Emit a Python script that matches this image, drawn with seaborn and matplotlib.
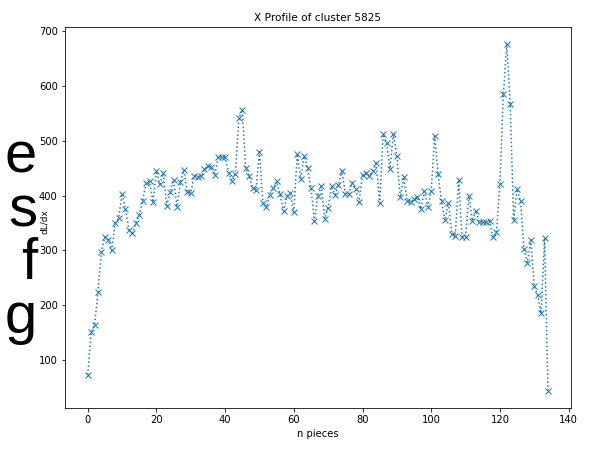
import matplotlib
matplotlib.use("Agg")
import matplotlib.pyplot as plt
import seaborn as sns
import pandas as pd

# ---- data ----
n_pieces = list(range(135))
dl_dx = [
    73, 151, 163, 225, 298, 325, 320, 300, 350, 359,
    404, 376, 338, 332, 350, 364, 391, 424, 426, 388,
    445, 421, 441, 382, 406, 429, 380, 425, 447, 406,
    405, 436, 435, 436, 448, 455, 452, 438, 471, 471,
    470, 442, 427, 440, 542, 557, 451, 436, 415, 411,
    480, 387, 379, 402, 414, 426, 403, 372, 399, 405,
    370, 476, 431, 472, 451, 414, 353, 400, 417, 358,
    378, 417, 402, 420, 446, 404, 403, 424, 412, 388,
    438, 442, 436, 445, 459, 386, 512, 497, 449, 513,
    473, 397, 434, 391, 388, 394, 397, 376, 408, 380,
    408, 509, 440, 390, 355, 387, 331, 327, 429, 325,
    325, 400, 354, 373, 352, 352, 352, 354, 324, 333,
    422, 585, 677, 568, 355, 412, 391, 303, 278, 319,
    235, 218, 185, 323, 44,
]
x_ticks = [0, 20, 40, 60, 80, 100, 120, 140]
y_ticks = [100, 200, 300, 400, 500, 600, 700]
title = "X Profile of cluster 5825"
x_label = "n pieces"
y_label = "dL/dx"
side_letters = ["e", "s", "f", "g"]

df = pd.DataFrame({"n": n_pieces, "v": dl_dx})

W, H = 606, 449
fig = plt.figure(figsize=(W / 72, H / 72), dpi=72)
ax = fig.add_axes([64.7 / W, 1 - 408 / H, (571 - 64.7) / W, (408 - 26.7) / H])

sns.lineplot(data=df, x="n", y="v", ax=ax, marker="x", linestyle=":",
             color="#1f77b4", markeredgecolor="#1f77b4", markeredgewidth=1.0,
             markersize=6, linewidth=1.5)

ax.set_xticks(x_ticks)
ax.set_yticks(y_ticks)
ax.set_xlim(-6.7, 140.7)
ax.set_ylim(12.3, 708.7)
ax.set_title(title, fontsize=10.5)
ax.set_xlabel(x_label, fontsize=10)
ax.set_ylabel(y_label, fontsize=9)
ax.yaxis.set_label_coords((49 - 64.7) / (571 - 64.7), 0.49)
ax.tick_params(labelsize=10)

# big slide letters at the left edge
baselines = [172, 226, 279, 333]
for letter, b in zip(side_letters, baselines):
    fig.text(37 / W, 1 - b / H, letter, ha="right", va="baseline",
             fontsize=58, family="Liberation Sans", color="black")

fig.savefig("out.png", dpi=72)
